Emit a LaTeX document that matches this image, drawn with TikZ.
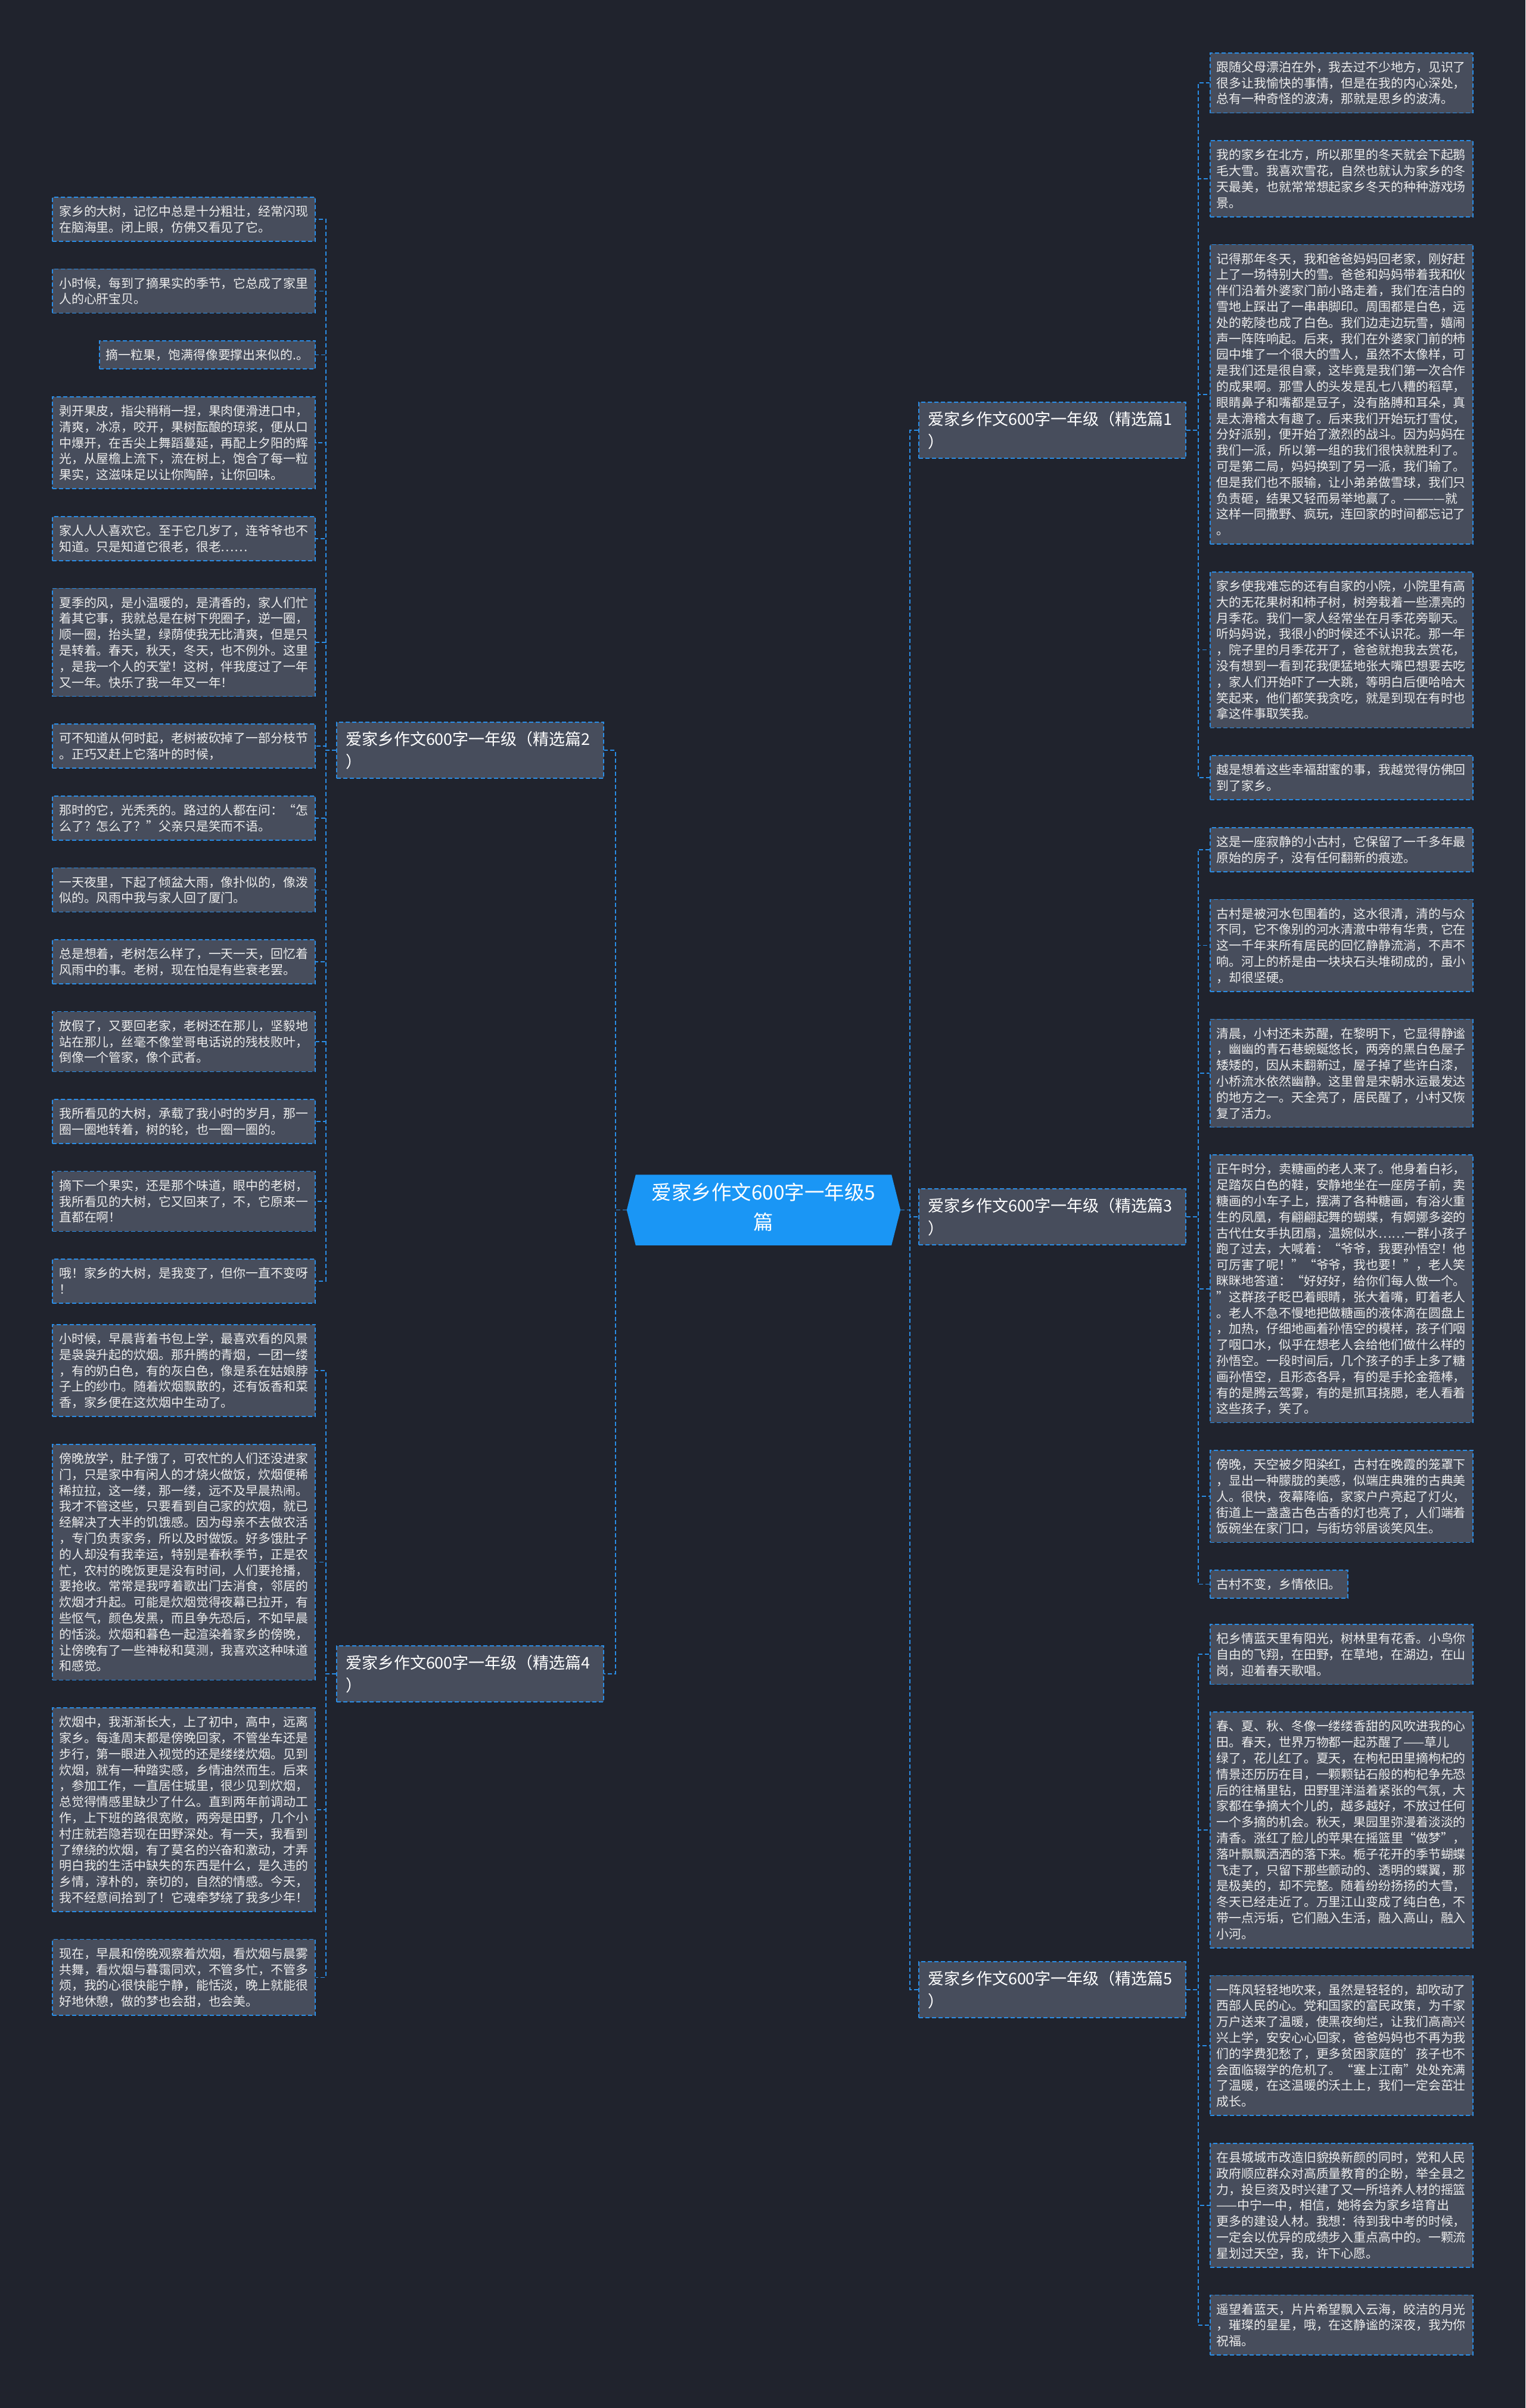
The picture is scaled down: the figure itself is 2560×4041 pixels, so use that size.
\documentclass[tikz,border=0pt]{standalone}
\usepackage{fontspec}
\setmainfont{Noto Sans CJK SC}
\usetikzlibrary{calc}
\definecolor{pagebg}{RGB}{32,35,45}
\definecolor{leaffill}{RGB}{71,77,92}
\definecolor{edgeblue}{RGB}{42,141,230}
\definecolor{txt}{RGB}{236,236,236}
\definecolor{hubblue}{RGB}{26,150,245}
\newcommand\leafstrut{\rule[-5.4pt]{0pt}{26.8pt}}
\newcommand\branchstrut{\rule[-8.7pt]{0pt}{38pt}}
\newcommand\hubstrut{\rule[-12.25pt]{0pt}{50pt}}
\pgfdeclarelayer{back}
\pgfsetlayers{back,main}
\tikzset{
  boxline/.style={draw=edgeblue, line width=1.6pt, dash pattern=on 7pt off 4pt},
  conn/.style={draw=edgeblue, line width=1.6pt, dash pattern=on 7pt off 4pt},
  leafbase/.style={boxline, fill=leaffill, text=txt, font=\fontsize{20.9}{26.8}\selectfont,
    inner xsep=11pt, inner ysep=10.2pt, align=left,
    execute at begin node=\leafstrut, execute at end node=\leafstrut},
  leaf/.style={leafbase, text width=419pt},
  shortleaf/.style={leafbase},
  lleaf/.style={leaf, anchor=north east},
  rleaf/.style={leaf, anchor=north west},
  lshort/.style={shortleaf, anchor=north east},
  rshort/.style={shortleaf, anchor=north west},
  branch/.style={boxline, fill=leaffill, text=white, font=\fontsize{27}{38}\selectfont,
    text width=418pt, inner xsep=15pt, inner ysep=9pt, align=left,
    execute at begin node=\branchstrut, execute at end node=\branchstrut},
  hubnode/.style={text=white, font=\fontsize{33.5}{50}\selectfont, align=center,
    minimum width=429pt, inner ysep=13.7pt, inner xsep=0pt,
    execute at begin node=\hubstrut, execute at end node=\hubstrut},
}
\begin{document}
\begin{tikzpicture}[x=1pt,y=-1pt]
\begin{pgfonlayer}{back}
\fill[pagebg] (0,0) rectangle (2560,4041);
\end{pgfonlayer}
\useasboundingbox (0,0) rectangle (2560,4041);

% ---------- Branch 2 leaves (left) ----------
\node[lleaf] (a1) at (530,330) {家乡的大树，记忆中总是十分粗壮，经常闪现\\在脑海里。闭上眼，仿佛又看见了它。};
\node[lleaf] (a2) at ([yshift=-45pt]a1.south east) {小时候，每到了摘果实的季节，它总成了家里\\人的心肝宝贝。};
\node[lshort] (a3) at ([yshift=-45pt]a2.south east) {摘一粒果，饱满得像要撑出来似的.。};
\node[lleaf] (a4) at ([yshift=-45pt]a3.south east) {剥开果皮，指尖稍稍一捏，果肉便滑进口中，\\清爽，冰凉，咬开，果树酝酿的琼浆，便从口\\中爆开，在舌尖上舞蹈蔓延，再配上夕阳的辉\\光，从屋檐上流下，流在树上，饱合了每一粒\\果实，这滋味足以让你陶醉，让你回味。};
\node[lleaf] (a5) at ([yshift=-45pt]a4.south east) {家人人人喜欢它。至于它几岁了，连爷爷也不\\知道。只是知道它很老，很老……};
\node[lleaf] (a6) at ([yshift=-45pt]a5.south east) {夏季的风，是小温暖的，是清香的，家人们忙\\着其它事，我就总是在树下兜圈子，逆一圈，\\顺一圈，抬头望，绿荫使我无比清爽，但是只\\是转着。春天，秋天，冬天，也不例外。这里\\，是我一个人的天堂！这树，伴我度过了一年\\又一年。快乐了我一年又一年！};
\node[lleaf] (a7) at ([yshift=-45pt]a6.south east) {可不知道从何时起，老树被砍掉了一部分枝节\\。正巧又赶上它落叶的时候，};
\node[lleaf] (a8) at ([yshift=-45pt]a7.south east) {那时的它，光秃秃的。路过的人都在问：“怎\\么了？怎么了？”父亲只是笑而不语。};
\node[lleaf] (a9) at ([yshift=-45pt]a8.south east) {一天夜里，下起了倾盆大雨，像扑似的，像泼\\似的。风雨中我与家人回了厦门。};
\node[lleaf] (a10) at ([yshift=-45pt]a9.south east) {总是想着，老树怎么样了，一天一天，回忆着\\风雨中的事。老树，现在怕是有些衰老罢。};
\node[lleaf] (a11) at ([yshift=-45pt]a10.south east) {放假了，又要回老家，老树还在那儿，坚毅地\\站在那儿，丝毫不像堂哥电话说的残枝败叶，\\倒像一个管家，像个武者。};
\node[lleaf] (a12) at ([yshift=-45pt]a11.south east) {我所看见的大树，承载了我小时的岁月，那一\\圈一圈地转着，树的轮，也一圈一圈的。};
\node[lleaf] (a13) at ([yshift=-45pt]a12.south east) {摘下一个果实，还是那个味道，眼中的老树，\\我所看见的大树，它又回来了，不，它原来一\\直都在啊！};
\node[lleaf] (a14) at ([yshift=-45pt]a13.south east) {哦！家乡的大树，是我变了，但你一直不变呀\\！};

% ---------- Branch 4 leaves (left) ----------
\node[lleaf] (d1) at (530,2222) {小时候，早晨背着书包上学，最喜欢看的风景\\是袅袅升起的炊烟。那升腾的青烟，一团一缕\\，有的奶白色，有的灰白色，像是系在姑娘脖\\子上的纱巾。随着炊烟飘散的，还有饭香和菜\\香，家乡便在这炊烟中生动了。};
\node[lleaf] (d2) at ([yshift=-45pt]d1.south east) {傍晚放学，肚子饿了，可农忙的人们还没进家\\门，只是家中有闲人的才烧火做饭，炊烟便稀\\稀拉拉，这一缕，那一缕，远不及早晨热闹。\\我才不管这些，只要看到自己家的炊烟，就已\\经解决了大半的饥饿感。因为母亲不去做农活\\，专门负责家务，所以及时做饭。好多饿肚子\\的人却没有我幸运，特别是春秋季节，正是农\\忙，农村的晚饭更是没有时间，人们要抢播，\\要抢收。常常是我哼着歌出门去消食，邻居的\\炊烟才升起。可能是炊烟觉得夜幕已拉开，有\\些怄气，颜色发黑，而且争先恐后，不如早晨\\的恬淡。炊烟和暮色一起渲染着家乡的傍晚，\\让傍晚有了一些神秘和莫测，我喜欢这种味道\\和感觉。};
\node[lleaf] (d3) at ([yshift=-45pt]d2.south east) {炊烟中，我渐渐长大，上了初中，高中，远离\\家乡。每逢周末都是傍晚回家，不管坐车还是\\步行，第一眼进入视觉的还是缕缕炊烟。见到\\炊烟，就有一种踏实感，乡情油然而生。后来\\，参加工作，一直居住城里，很少见到炊烟，\\总觉得情感里缺少了什么。直到两年前调动工\\作，上下班的路很宽敞，两旁是田野，几个小\\村庄就若隐若现在田野深处。有一天，我看到\\了缭绕的炊烟，有了莫名的兴奋和激动，才弄\\明白我的生活中缺失的东西是什么，是久违的\\乡情，淳朴的，亲切的，自然的情感。今天，\\我不经意间拾到了！它魂牵梦绕了我多少年！};
\node[lleaf] (d4) at ([yshift=-45pt]d3.south east) {现在，早晨和傍晚观察着炊烟，看炊烟与晨雾\\共舞，看炊烟与暮霭同欢，不管多忙，不管多\\烦，我的心很快能宁静，能恬淡，晚上就能很\\好地休憩，做的梦也会甜，也会美。};

% ---------- Branch 1 leaves (right) ----------
\node[rleaf] (p1) at (2030,88) {跟随父母漂泊在外，我去过不少地方，见识了\\很多让我愉快的事情，但是在我的内心深处，\\总有一种奇怪的波涛，那就是思乡的波涛。};
\node[rleaf] (p2) at ([yshift=-45pt]p1.south west) {我的家乡在北方，所以那里的冬天就会下起鹅\\毛大雪。我喜欢雪花，自然也就认为家乡的冬\\天最美，也就常常想起家乡冬天的种种游戏场\\景。};
\node[rleaf] (p3) at ([yshift=-45pt]p2.south west) {记得那年冬天，我和爸爸妈妈回老家，刚好赶\\上了一场特别大的雪。爸爸和妈妈带着我和伙\\伴们沿着外婆家门前小路走着，我们在洁白的\\雪地上踩出了一串串脚印。周围都是白色，远\\处的乾陵也成了白色。我们边走边玩雪，嬉闹\\声一阵阵响起。后来，我们在外婆家门前的柿\\园中堆了一个很大的雪人，虽然不太像样，可\\是我们还是很自豪，这毕竟是我们第一次合作\\的成果啊。那雪人的头发是乱七八糟的稻草，\\眼睛鼻子和嘴都是豆子，没有胳膊和耳朵，真\\是太滑稽太有趣了。后来我们开始玩打雪仗，\\分好派别，便开始了激烈的战斗。因为妈妈在\\我们一派，所以第一组的我们很快就胜利了。\\可是第二局，妈妈换到了另一派，我们输了。\\但是我们也不服输，让小弟弟做雪球，我们只\\负责砸，结果又轻而易举地赢了。————就\\这样一同撒野、疯玩，连回家的时间都忘记了\\。};
\node[rleaf] (p4) at ([yshift=-45pt]p3.south west) {家乡使我难忘的还有自家的小院，小院里有高\\大的无花果树和柿子树，树旁栽着一些漂亮的\\月季花。我们一家人经常坐在月季花旁聊天。\\听妈妈说，我很小的时候还不认识花。那一年\\，院子里的月季花开了，爸爸就抱我去赏花，\\没有想到一看到花我便猛地张大嘴巴想要去吃\\，家人们开始吓了一大跳，等明白后便哈哈大\\笑起来，他们都笑我贪吃，就是到现在有时也\\拿这件事取笑我。};
\node[rleaf] (p5) at ([yshift=-45pt]p4.south west) {越是想着这些幸福甜蜜的事，我越觉得仿佛回\\到了家乡。};

% ---------- Branch 3 leaves (right) ----------
\node[rleaf] (q1) at (2030,1388) {这是一座寂静的小古村，它保留了一千多年最\\原始的房子，没有任何翻新的痕迹。};
\node[rleaf] (q2) at ([yshift=-45pt]q1.south west) {古村是被河水包围着的，这水很清，清的与众\\不同，它不像别的河水清澈中带有华贵，它在\\这一千年来所有居民的回忆静静流淌，不声不\\响。河上的桥是由一块块石头堆砌成的，虽小\\，却很坚硬。};
\node[rleaf] (q3) at ([yshift=-45pt]q2.south west) {清晨，小村还未苏醒，在黎明下，它显得静谧\\，幽幽的青石巷蜿蜒悠长，两旁的黑白色屋子\\矮矮的，因从未翻新过，屋子掉了些许白漆，\\小桥流水依然幽静。这里曾是宋朝水运最发达\\的地方之一。天全亮了，居民醒了，小村又恢\\复了活力。};
\node[rleaf] (q4) at ([yshift=-45pt]q3.south west) {正午时分，卖糖画的老人来了。他身着白衫，\\足踏灰白色的鞋，安静地坐在一座房子前，卖\\糖画的小车子上，摆满了各种糖画，有浴火重\\生的凤凰，有翩翩起舞的蝴蝶，有婀娜多姿的\\古代仕女手执团扇，温婉似水……一群小孩子\\跑了过去，大喊着：“爷爷，我要孙悟空！他\\可厉害了呢！”“爷爷，我也要！”，老人笑\\眯眯地答道：“好好好，给你们每人做一个。\\”这群孩子眨巴着眼睛，张大着嘴，盯着老人\\。老人不急不慢地把做糖画的液体滴在圆盘上\\，加热，仔细地画着孙悟空的模样，孩子们咽\\了咽口水，似乎在想老人会给他们做什么样的\\孙悟空。一段时间后，几个孩子的手上多了糖\\画孙悟空，且形态各异，有的是手抡金箍棒，\\有的是腾云驾雾，有的是抓耳挠腮，老人看着\\这些孩子，笑了。};
\node[rleaf] (q5) at ([yshift=-45pt]q4.south west) {傍晚，天空被夕阳染红，古村在晚霞的笼罩下\\，显出一种朦胧的美感，似端庄典雅的古典美\\人。很快，夜幕降临，家家户户亮起了灯火，\\街道上一盏盏古色古香的灯也亮了，人们端着\\饭碗坐在家门口，与街坊邻居谈笑风生。};
\node[rshort] (q6) at ([yshift=-45pt]q5.south west) {古村不变，乡情依旧。};

% ---------- Branch 5 leaves (right) ----------
\node[rleaf] (s1) at (2030,2725) {杞乡情蓝天里有阳光，树林里有花香。小鸟你\\自由的飞翔，在田野，在草地，在湖边，在山\\岗，迎着春天歌唱。};
\node[rleaf] (s2) at ([yshift=-45pt]s1.south west) {春、夏、秋、冬像一缕缕香甜的风吹进我的心\\田。春天，世界万物都一起苏醒了——草儿\\绿了，花儿红了。夏天，在枸杞田里摘枸杞的\\情景还历历在目，一颗颗钻石般的枸杞争先恐\\后的往桶里钻，田野里洋溢着紧张的气氛，大\\家都在争摘大个儿的，越多越好，不放过任何\\一个多摘的机会。秋天，果园里弥漫着淡淡的\\清香。涨红了脸儿的苹果在摇篮里“做梦”，\\落叶飘飘洒洒的落下来。栀子花开的季节蝴蝶\\飞走了，只留下那些颤动的、透明的蝶翼，那\\是极美的，却不完整。随着纷纷扬扬的大雪，\\冬天已经走近了。万里江山变成了纯白色，不\\带一点污垢，它们融入生活，融入高山，融入\\小河。};
\node[rleaf] (s3) at ([yshift=-45pt]s2.south west) {一阵风轻轻地吹来，虽然是轻轻的，却吹动了\\西部人民的心。党和国家的富民政策，为千家\\万户送来了温暖，使黑夜绚烂，让我们高高兴\\兴上学，安安心心回家，爸爸妈妈也不再为我\\们的学费犯愁了，更多贫困家庭的'孩子也不\\会面临辍学的危机了。“塞上江南”处处充满\\了温暖，在这温暖的沃土上，我们一定会茁壮\\成长。};
\node[rleaf] (s4) at ([yshift=-45pt]s3.south west) {在县城城市改造旧貌换新颜的同时，党和人民\\政府顺应群众对高质量教育的企盼，举全县之\\力，投巨资及时兴建了又一所培养人材的摇篮\\——中宁一中，相信，她将会为家乡培育出\\更多的建设人材。我想：待到我中考的时候，\\一定会以优异的成绩步入重点高中的。一颗流\\星划过天空，我，许下心愿。};
\node[rleaf] (s5) at ([yshift=-45pt]s4.south west) {遥望着蓝天，片片希望飘入云海，皎洁的月光\\，璀璨的星星，哦，在这静谧的深夜，我为你\\祝福。};

% ---------- Branch nodes ----------
\path let \p1=($(p1.center)!0.5!(p5.center)$) in node[branch] (b1) at (1766pt,\y1) {爱家乡作文600字一年级（精选篇1\\）};
\path let \p1=($(a1.center)!0.5!(a14.center)$) in node[branch] (b2) at (789pt,\y1) {爱家乡作文600字一年级（精选篇2\\）};
\path let \p1=($(q1.center)!0.5!(q6.center)$) in node[branch] (b3) at (1766pt,\y1) {爱家乡作文600字一年级（精选篇3\\）};
\path let \p1=($(d1.center)!0.5!(d4.center)$) in node[branch] (b4) at (789pt,\y1) {爱家乡作文600字一年级（精选篇4\\）};
\path let \p1=($(s1.center)!0.5!(s5.center)$) in node[branch] (b5) at (1766pt,\y1) {爱家乡作文600字一年级（精选篇5\\）};

% ---------- Hub ----------
\path let \p1=($(b1.center)!0.5!(b5.center)$) in node[hubnode] (c) at (1281.5pt,\y1) {爱家乡作文600字一年级5\\篇};
\begin{pgfonlayer}{back}
\fill[hubblue] (c.north west) -- (c.north east) -- ([xshift=15pt]c.east) -- (c.south east) -- (c.south west) -- ([xshift=-15pt]c.west) -- cycle;
\end{pgfonlayer}
\coordinate (cR) at ([xshift=15pt]c.east);
\coordinate (cL) at ([xshift=-15pt]c.west);

% ---------- Connectors ----------
\foreach \b in {b1,b3,b5} \draw[conn] (cR) -- ++(16pt,0) |- (\b.west);
\foreach \b in {b2,b4} \draw[conn] (cL) -- ++(-19pt,0) |- (\b.east);
\foreach \l in {p1,p2,p3,p4,p5} \draw[conn] (b1.east) -- ++(20pt,0) |- (\l.west);
\foreach \l in {q1,q2,q3,q4,q5,q6} \draw[conn] (b3.east) -- ++(20pt,0) |- (\l.west);
\foreach \l in {s1,s2,s3,s4,s5} \draw[conn] (b5.east) -- ++(20pt,0) |- (\l.west);
\foreach \l in {a1,a2,a3,a4,a5,a6,a7,a8,a9,a10,a11,a12,a13,a14} \draw[conn] (b2.west) -- ++(-17.5pt,0) |- (\l.east);
\foreach \l in {d1,d2,d3,d4} \draw[conn] (b4.west) -- ++(-17.5pt,0) |- (\l.east);
\end{tikzpicture}
\end{document}
